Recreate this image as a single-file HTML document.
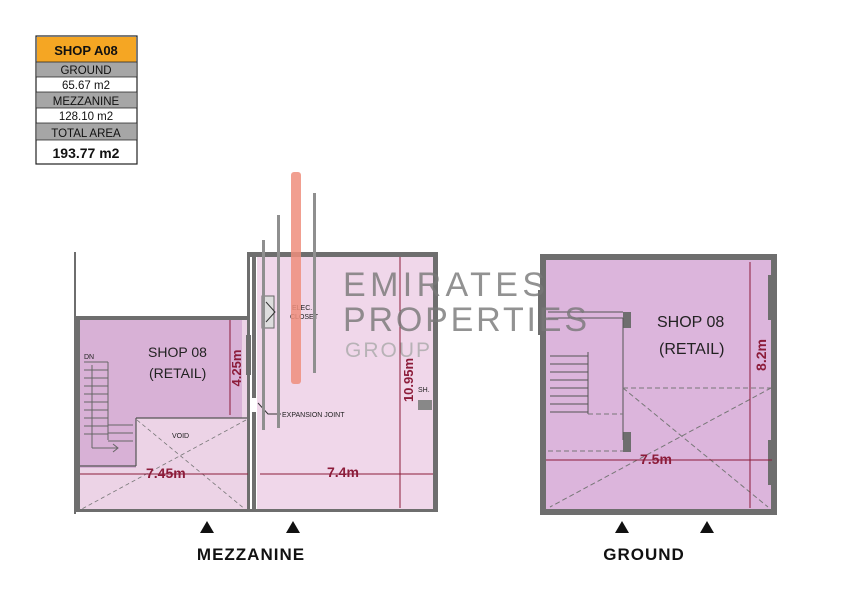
<!DOCTYPE html>
<html><head><meta charset="utf-8"><style>
html,body{margin:0;padding:0;background:#fff}
svg{display:block}
text{font-family:"Liberation Sans",sans-serif}
</style></head><body>
<svg width="848" height="600" viewBox="0 0 848 600" xmlns="http://www.w3.org/2000/svg">
<!-- table -->
<rect x="36" y="36" width="101" height="128" fill="#fff" stroke="#222" stroke-width="1.2"/>
<rect x="37" y="37" width="99" height="25" fill="#f5a623"/>
<rect x="37" y="62" width="99" height="15" fill="#a6a6a6"/>
<rect x="37" y="92" width="99" height="16" fill="#a6a6a6"/>
<rect x="37" y="123" width="99" height="17" fill="#a6a6a6"/>
<g stroke="#222" stroke-width="0.8"><line x1="36" y1="62" x2="137" y2="62"/><line x1="36" y1="77" x2="137" y2="77"/><line x1="36" y1="92" x2="137" y2="92"/><line x1="36" y1="108" x2="137" y2="108"/><line x1="36" y1="123" x2="137" y2="123"/><line x1="36" y1="140" x2="137" y2="140"/></g>
<g text-anchor="middle" fill="#111">
<text x="86" y="55" font-size="13" font-weight="bold">SHOP A08</text>
<text x="86" y="74" font-size="11.5">GROUND</text>
<text x="86" y="89" font-size="11.5">65.67 m2</text>
<text x="86" y="105" font-size="11.5">MEZZANINE</text>
<text x="86" y="120" font-size="11.5">128.10 m2</text>
<text x="86" y="137" font-size="11.5">TOTAL AREA</text>
<text x="86" y="158" font-size="14" font-weight="bold">193.77 m2</text>
</g>

<!-- mezzanine left -->
<rect x="76" y="318" width="174" height="194" fill="#ecd3e6"/>
<rect x="80" y="320" width="162" height="98" fill="#d8b1d6"/>
<rect x="80" y="418" width="56" height="50" fill="#d8b1d6"/>
<g stroke="#555" stroke-width="1.2" fill="none">
<line x1="136" y1="418" x2="248" y2="418"/>
<line x1="136" y1="418" x2="136" y2="466"/>
<line x1="80" y1="466" x2="136" y2="466"/>
</g>
<g stroke="#666" stroke-width="1">
<line x1="84" y1="362" x2="108" y2="362"/><line x1="84" y1="370" x2="108" y2="370"/><line x1="84" y1="378" x2="108" y2="378"/><line x1="84" y1="386" x2="108" y2="386"/><line x1="84" y1="394" x2="108" y2="394"/><line x1="84" y1="402" x2="108" y2="402"/><line x1="84" y1="410" x2="108" y2="410"/><line x1="84" y1="418" x2="108" y2="418"/><line x1="84" y1="426" x2="108" y2="426"/><line x1="84" y1="434" x2="108" y2="434"/>
<line x1="108" y1="362" x2="108" y2="440"/>
<line x1="108" y1="425" x2="133" y2="425"/><line x1="108" y1="433" x2="133" y2="433"/><line x1="108" y1="441" x2="133" y2="441"/>
<line x1="92" y1="365" x2="92" y2="448"/><line x1="92" y1="448" x2="118" y2="448"/>
</g>
<path d="M113 444 L118 448 L113 452" stroke="#666" fill="none"/>
<text x="84" y="359" font-size="7" fill="#222">DN</text>
<g stroke="#777" stroke-width="0.8" stroke-dasharray="4,3"><line x1="137" y1="420" x2="246" y2="510"/><line x1="246" y1="420" x2="80" y2="510"/></g>
<text x="172" y="438" font-size="7" fill="#222">VOID</text>
<!-- walls -->
<g fill="#6e6e6e">
<rect x="74" y="252" width="2" height="262"/>
<rect x="76" y="316" width="174" height="4"/>
<rect x="76" y="316" width="4" height="196"/>
<rect x="247" y="252" width="3" height="260"/>
<rect x="250" y="252" width="188" height="5"/>
<rect x="252" y="252" width="4" height="260"/>
<rect x="433" y="252" width="5" height="260"/>
<rect x="246" y="335" width="5" height="40"/>
<rect x="76" y="509" width="362" height="3"/>
</g>
<rect x="257" y="257" width="176" height="252" fill="#f0d7ea"/>
<rect x="252" y="398" width="4" height="14" fill="#fff"/>
<!-- dims mezz -->
<g stroke="#8c1c3a" stroke-width="1">
<line x1="230" y1="320" x2="230" y2="415"/>
<line x1="80" y1="474" x2="248" y2="474"/>
<line x1="260" y1="474" x2="433" y2="474"/>
<line x1="400" y1="257" x2="400" y2="508"/>
</g>
<g fill="#8c1c3a" font-weight="bold">
<text x="146" y="478" font-size="14">7.45m</text>
<text x="327" y="477" font-size="14">7.4m</text>
<text transform="translate(241,368) rotate(-90)" font-size="13" text-anchor="middle">4.25m</text>
<text transform="translate(413,380) rotate(-90)" font-size="13" text-anchor="middle">10.95m</text>
</g>
<text x="148" y="357" font-size="14" fill="#222">SHOP 08</text>
<text x="149" y="378" font-size="14" fill="#222">(RETAIL)</text>
<rect x="262" y="296" width="12" height="32" fill="#ddd" stroke="#666"/>
<path d="M266 302 L275 312 L266 322" stroke="#333" fill="none"/>
<text x="292" y="310" font-size="7" fill="#222">ELEC.</text>
<text x="290" y="319" font-size="7" fill="#222">CLOSET</text>
<text x="282" y="417" font-size="7" fill="#222">EXPANSION JOINT</text>
<path d="M258 403 L268 414 L281 414" stroke="#333" fill="none"/>
<text x="418" y="392" font-size="7" fill="#222">SH.</text>
<rect x="418" y="400" width="14" height="10" fill="#888"/>
<!-- ghost lines & red bar -->
<g fill="#8f8f8f"><rect x="262" y="240" width="3" height="190"/><rect x="277" y="215" width="3" height="213"/><rect x="313" y="193" width="3" height="180"/></g>
<rect x="291" y="172" width="10" height="212" rx="3" fill="#ee8e7c" opacity="0.85"/>

<!-- ground -->
<rect x="540" y="254" width="237" height="261" fill="#6e6e6e"/>
<rect x="546" y="260" width="225" height="249" fill="#dcb5dc"/>
<g fill="#6e6e6e"><rect x="538" y="290" width="8" height="45"/><rect x="768" y="275" width="8" height="45"/><rect x="623" y="312" width="8" height="16"/><rect x="623" y="432" width="8" height="20"/><rect x="768" y="440" width="8" height="45"/></g>
<g stroke="#555" stroke-width="1" fill="none"><line x1="548" y1="312" x2="623" y2="312"/><line x1="548" y1="318" x2="623" y2="318"/><line x1="623" y1="318" x2="623" y2="440"/></g>
<g stroke="#555" stroke-width="1">
<line x1="550" y1="356" x2="588" y2="356"/><line x1="550" y1="364" x2="588" y2="364"/><line x1="550" y1="372" x2="588" y2="372"/><line x1="550" y1="380" x2="588" y2="380"/><line x1="550" y1="388" x2="588" y2="388"/><line x1="550" y1="396" x2="588" y2="396"/><line x1="550" y1="404" x2="588" y2="404"/><line x1="550" y1="412" x2="588" y2="412"/>
<line x1="588" y1="352" x2="588" y2="414"/>
</g>
<g stroke="#777" stroke-width="1" stroke-dasharray="5,3" fill="none">
<line x1="623" y1="388" x2="771" y2="388"/><line x1="548" y1="451" x2="623" y2="451"/><line x1="588" y1="414" x2="623" y2="414"/>
<line x1="623" y1="388" x2="768" y2="507"/><line x1="771" y1="388" x2="550" y2="507"/>
</g>
<g stroke="#8c1c3a" stroke-width="1"><line x1="546" y1="460" x2="772" y2="460"/><line x1="750" y1="262" x2="750" y2="508"/></g>
<text x="640" y="464" font-size="14" font-weight="bold" fill="#8c1c3a">7.5m</text>
<text transform="translate(766,355) rotate(-90)" font-size="14" font-weight="bold" fill="#8c1c3a" text-anchor="middle">8.2m</text>
<text x="657" y="327" font-size="16" fill="#222">SHOP 08</text>
<text x="659" y="354" font-size="16" fill="#222">(RETAIL)</text>

<!-- watermark -->
<g fill="#777" opacity="0.8">
<text x="343" y="296" font-size="34" textLength="202" lengthAdjust="spacing">EMIRATES</text>
<text x="343" y="331" font-size="34" textLength="244" lengthAdjust="spacing">PROPERTIES</text>
</g>
<text x="345" y="357" font-size="21" textLength="85" lengthAdjust="spacing" fill="#aaa" opacity="0.8">GROUP</text>

<!-- triangles & labels -->
<g fill="#111"><path d="M200 533 L207 521 L214 533Z"/><path d="M286 533 L293 521 L300 533Z"/><path d="M615 533 L622 521 L629 533Z"/><path d="M700 533 L707 521 L714 533Z"/></g>
<text x="251" y="560" font-size="17" font-weight="bold" text-anchor="middle" letter-spacing="1" fill="#111">MEZZANINE</text>
<text x="644" y="560" font-size="17" font-weight="bold" text-anchor="middle" letter-spacing="1" fill="#111">GROUND</text>
</svg>
</body></html>
